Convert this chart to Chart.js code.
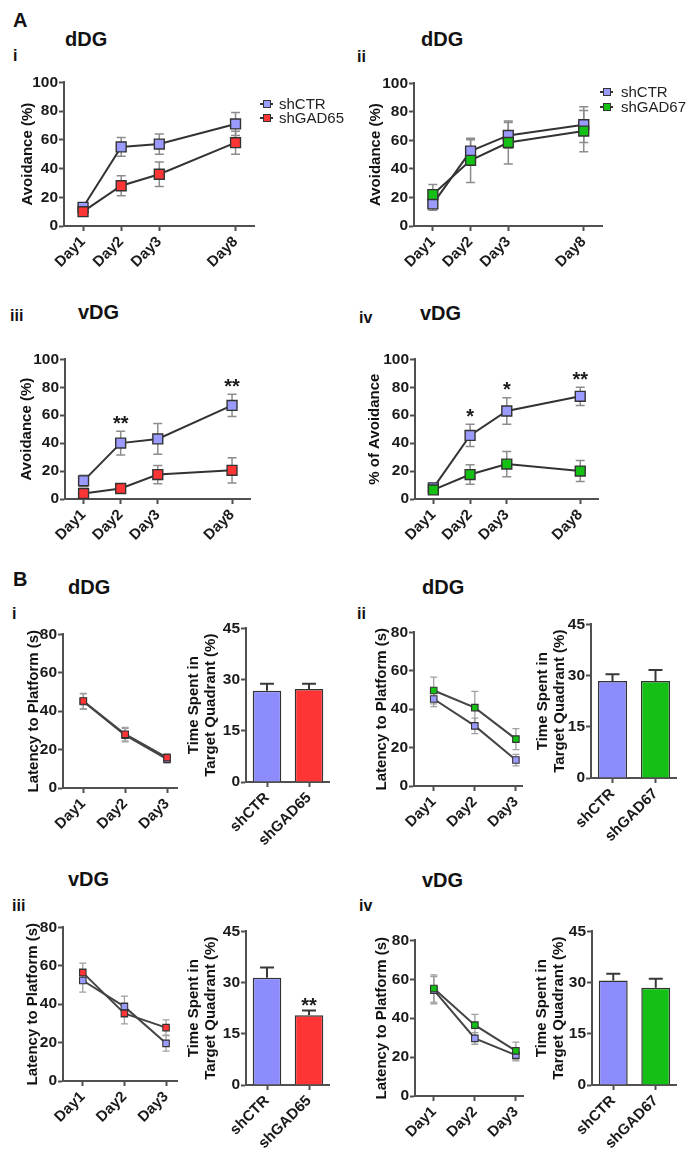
<!DOCTYPE html>
<html><head><meta charset="utf-8">
<script src="https://cdn.jsdelivr.net/npm/chart.js@4.4.1/dist/chart.umd.min.js"></script>
<style>
html,body{margin:0;padding:0;background:#fff;}
body{width:694px;height:1155px;position:relative;overflow:hidden;font-family:"Liberation Sans",Arial,Helvetica,sans-serif;}
canvas{position:absolute;}
.t{position:absolute;font-weight:bold;line-height:1;white-space:nowrap;color:#111;}
.lg{position:absolute;font-size:15px;line-height:1;white-space:nowrap;color:#222;}
.lgl{position:absolute;height:2px;background:#333;}
.lgs{position:absolute;width:6px;height:6px;border:1px solid #333;}
</style></head><body>
<script>
// ---------- data ----------
const daysA = ['Day1','Day2','Day3','Day8'];
const daysB = ['Day1','Day2','Day3'];
const groups65 = ['shCTR','shGAD65'];
const groups67 = ['shCTR','shGAD67'];
const ticksAvoid = [0,20,40,60,80,100];
const ticksLat = [0,20,40,60,80];
const ticksQuad = [0,15,30,45];

// A-i  dDG shGAD65
const aiCTR = [13, 55, 57, 71];
const aiCTRerr = [2, 6.5, 7, 8];
const aiGAD = [10, 28, 36, 58];
const aiGADerr = [2, 7, 8.5, 8];
// A-ii dDG shGAD67
const aiiCTR = [15.5, 52.5, 63.5, 71];
const aiiCTRerr = [4.5, 8, 9, 12.5];
const aiiGAD = [22, 46, 58.5, 66.5];
const aiiGADerr = [7, 15.5, 15, 14.5];
// A-iii vDG shGAD65
const aiiiCTR = [13, 40, 43, 67];
const aiiiCTRerr = [4, 8.5, 11, 8];
const aiiiGAD = [4, 7.5, 17.5, 20.5];
const aiiiGADerr = [1.5, 2, 6.5, 9];
const aiiiStars = ['', '**', '', '**'];
// A-iv vDG shGAD67
const aivCTR = [8, 45.5, 63, 73.5];
const aivCTRerr = [2, 8, 9.5, 6.5];
const aivGAD = [6.5, 17.5, 25, 20];
const aivGADerr = [2, 7, 9, 7.5];
const aivStars = ['', '*', '*', '**'];

// B-i dDG shGAD65
const biLatCTR = [45, 27.5, 15];
const biLatCTRerr = [4, 3.5, 2];
const biLatGAD = [45.3, 28, 15.8];
const biLatGADerr = [4, 3.5, 2];
const biQuad = [26.7, 27.2];
const biQuadErr = [2.1, 1.6];
// B-ii dDG shGAD67
const biiLatCTR = [45.3, 31.3, 13.5];
const biiLatCTRerr = [4, 4, 3];
const biiLatGAD = [49.7, 40.8, 24.4];
const biiLatGADerr = [7, 8.5, 5.5];
const biiQuad = [28.4, 28.4];
const biiQuadErr = [2, 3.2];
// B-iii vDG shGAD65
const biiiLatCTR = [52.3, 38.7, 19.6];
const biiiLatCTRerr = [6, 5.5, 4];
const biiiLatGAD = [56.4, 35.2, 27.8];
const biiiLatGADerr = [5, 5.5, 4];
const biiiQuad = [31.4, 20.4];
const biiiQuadErr = [3, 1.4];
const biiiQuadStars = ['', '**'];
// B-iv vDG shGAD67
const bivLatCTR = [54.4, 29.6, 21];
const bivLatCTRerr = [7, 3, 3];
const bivLatGAD = [55.2, 36.4, 23.2];
const bivLatGADerr = [7, 5.5, 4.5];
const bivQuad = [30.6, 28.5];
const bivQuadErr = [2, 2.6];

// ---------- styles ----------
const FONT = '"Liberation Sans", Arial, Helvetica, sans-serif';
Chart.defaults.font.family = FONT;
Chart.defaults.color = '#1a1a1a';
Chart.defaults.animation = false;
const AX = '#505050', LINE_A = '#333', LINE_B = '#444', ERR_A = '#8c8c8c', ERR_B = '#a0a0a0', EDGE = '#333';
const BLUE = '#9a9aff', BLUE_BAR = '#8c8cff', RED = '#ff3535', GREEN = '#14c014';
const YW = 62;

function withGap(a){ return [a[0], a[1], a[2], null, a[3]]; }
function val(d){ return d == null ? null : (typeof d === 'object' ? d.y : d); }

function drawErr(chart, after){
  const ctx = chart.ctx, ys = chart.scales.y;
  chart.data.datasets.forEach((ds, di) => {
    if (!ds.errors || (!!ds.errAfter) !== after) return;
    const meta = chart.getDatasetMeta(di);
    ctx.save(); ctx.strokeStyle = ds.errColor; ctx.lineWidth = ds.errWidth;
    meta.data.forEach((el, i) => {
      const v = val(ds.data[i]), e = ds.errors[i];
      if (v == null || e == null) return;
      const x = el.x, yt = ys.getPixelForValue(v + e), yb = ys.getPixelForValue(ds.errUp ? v : v - e), c = ds.errCap;
      ctx.beginPath();
      ctx.moveTo(x, yt); ctx.lineTo(x, yb);
      ctx.moveTo(x - c, yt); ctx.lineTo(x + c, yt);
      if (!ds.errUp) { ctx.moveTo(x - c, yb); ctx.lineTo(x + c, yb); }
      ctx.stroke();
    });
    ctx.restore();
  });
}
function drawStars(chart){
  const st = chart.data.stars; if (!st) return;
  const ctx = chart.ctx, ys = chart.scales.y;
  st.forEach((s, i) => {
    if (!s) return;
    let top = Infinity, x = null;
    chart.data.datasets.forEach((ds, di) => {
      const v = val(ds.data[i]); if (v == null) return;
      const e = (ds.errors && ds.errors[i]) || 0;
      top = Math.min(top, ys.getPixelForValue(v + e));
      x = chart.getDatasetMeta(di).data[i].x;
    });
    if (x == null) return;
    ctx.save();
    ctx.font = 'bold 20px ' + FONT; ctx.fillStyle = '#1a1a1a';
    ctx.textAlign = 'center'; ctx.textBaseline = 'alphabetic';
    ctx.fillText(s, x, top - chart.data.starGap + 0.57 * 20);
    ctx.restore();
  });
}
const errPlugin = {
  id: 'errbars',
  beforeDatasetsDraw(chart){ drawErr(chart, false); },
  afterDatasetsDraw(chart){ drawErr(chart, true); drawStars(chart); }
};
Chart.register(errPlugin);

function yLin(ticks, title, titleX, area){
  const fs = 15, lh = fs * 1.15;
  return {
    type: 'linear', min: ticks[0], max: ticks[ticks.length - 1],
    afterBuildTicks: s => { s.ticks = ticks.map(v => ({value: v})); },
    afterFit: s => { s.width = YW; },
    grid: {drawOnChartArea: false, tickLength: 5, tickWidth: 2, tickColor: AX, color: AX},
    border: {color: AX, width: 2},
    ticks: {font: {size: 15.5, weight: 'bold'}, color: '#1a1a1a', padding: 1, autoSkip: false},
    title: {display: true, text: title, color: '#111', font: {size: fs, weight: 'bold', lineHeight: 1.15},
            padding: {top: Math.max(0, titleX - area.l + YW - lh / 2), bottom: 0}}
  };
}
function xTicks(){ return {font: {size: 15, weight: 'bold'}, color: '#1a1a1a', minRotation: 45, maxRotation: 45, padding: 2, autoSkip: false}; }
function baseOpts(){
  return {responsive: false, animation: false, events: [], layout: {padding: 0},
          plugins: {legend: {display: false}, tooltip: {enabled: false}}};
}
function pt(label, data, errs, color, order, big){
  return {label, data, errors: errs, order, spanGaps: true, tension: 0,
    borderColor: big ? LINE_A : LINE_B, borderWidth: 2,
    pointStyle: 'rect', pointRadius: big ? 7 : 4.6, pointBackgroundColor: color,
    pointBorderColor: EDGE, pointBorderWidth: big ? 1.4 : 1.1,
    errColor: big ? ERR_A : ERR_B, errWidth: big ? 1.5 : 1.3, errCap: big ? 4.5 : 3.5};
}

function cfgA(p){
  return () => {
    const o = baseOpts();
    o.scales = {
      x: {type: 'category', offset: true, afterFit: s => { s.height = 48; },
          grid: {drawOnChartArea: false, offset: false, tickLength: 5, tickWidth: 2, color: AX,
                 tickColor: c => (c.tick && c.tick.label === '') ? 'rgba(0,0,0,0)' : AX},
          border: {color: AX, width: 2}, ticks: xTicks()},
      y: yLin(ticksAvoid, p.yTitle, p.titleX, p.area)
    };
    return {type: 'line',
      data: {labels: withGap(daysA).map(d => d == null ? '' : d),
        stars: p.stars ? withGap(p.stars) : null, starGap: 13,
        datasets: [pt('shCTR', withGap(p.ctr), withGap(p.ctrErr), BLUE, 1, true),
                   pt(p.gadName, withGap(p.gad), withGap(p.gadErr), p.gadColor, 0, true)]},
      options: o};
  };
}
function cfgBL(p){
  return () => {
    const o = baseOpts();
    o.scales = {
      x: {type: 'linear', min: p.xMin, max: p.xMax, afterFit: s => { s.height = 52; },
          afterBuildTicks: s => { s.ticks = daysB.map((d, i) => ({value: i})); },
          grid: {drawOnChartArea: false, tickLength: 5, tickWidth: 2, color: AX, tickColor: AX},
          border: {color: AX, width: 2},
          ticks: Object.assign(xTicks(), {callback: v => daysB[v] == null ? '' : daysB[v]})},
      y: yLin(ticksLat, 'Latency to Platform (s)', p.titleX, p.area)
    };
    const xy = a => a.map((v, i) => ({x: i, y: v}));
    return {type: 'line',
      data: {datasets: [pt('shCTR', xy(p.ctr), p.ctrErr, BLUE, 1, false),
                        pt(p.gadName, xy(p.gad), p.gadErr, p.gadColor, 0, false)]},
      options: o};
  };
}
function cfgBB(p){
  return () => {
    const o = baseOpts();
    o.scales = {
      x: {type: 'category', offset: true, afterFit: s => { s.height = 80; },
          grid: {drawOnChartArea: false, offset: false, tickLength: 5, tickWidth: 2, color: AX, tickColor: AX},
          border: {color: AX, width: 2}, ticks: xTicks()},
      y: yLin(ticksQuad, ['Time Spent in', 'Target Quadrant (%)'], p.titleX, p.area)
    };
    return {type: 'bar',
      data: {labels: p.groups, stars: p.stars || null, starGap: 10,
        datasets: [{data: p.vals, errors: p.errs, errUp: true, errAfter: true, errColor: '#383838', errWidth: 2, errCap: 7,
          backgroundColor: [BLUE_BAR, p.color], borderColor: EDGE, borderWidth: 1.5,
          barPercentage: 0.68, categoryPercentage: 1}]},
      options: o};
  };
}

function build(area, makeCfg){
  const cv = document.createElement('canvas');
  document.body.appendChild(cv);
  const make = (W, H) => {
    cv.width = W; cv.height = H; cv.style.width = W + 'px'; cv.style.height = H + 'px';
    return new Chart(cv, makeCfg());
  };
  const W = YW + (area.r - area.l) + 20, H = 20 + (area.b - area.t) + 80;
  let ch = make(W, H); let ca = ch.chartArea;
  const W2 = Math.round(ca.left + (area.r - area.l) + (W - ca.right));
  const H2 = Math.round(ca.top + (area.b - area.t) + (H - ca.bottom));
  ch.destroy();
  ch = make(W2, H2); ca = ch.chartArea;
  cv.style.left = (area.l - ca.left) + 'px';
  cv.style.top = (area.t - ca.top) + 'px';
}

// ---------- panels ----------
const A1 = {l: 64, t: 82, r: 255, b: 226};
build(A1, cfgA({area: A1, titleX: 27.5, yTitle: 'Avoidance (%)', ctr: aiCTR, ctrErr: aiCTRerr, gad: aiGAD, gadErr: aiGADerr, gadName: 'shGAD65', gadColor: RED}));
const A2 = {l: 414, t: 83, r: 603, b: 226};
build(A2, cfgA({area: A2, titleX: 375.5, yTitle: 'Avoidance (%)', ctr: aiiCTR, ctrErr: aiiCTRerr, gad: aiiGAD, gadErr: aiiGADerr, gadName: 'shGAD67', gadColor: GREEN}));
const A3 = {l: 65, t: 359, r: 251, b: 499};
build(A3, cfgA({area: A3, titleX: 26.5, yTitle: 'Avoidance (%)', ctr: aiiiCTR, ctrErr: aiiiCTRerr, gad: aiiiGAD, gadErr: aiiiGADerr, gadName: 'shGAD65', gadColor: RED, stars: aiiiStars}));
const A4 = {l: 415, t: 359, r: 599, b: 499};
build(A4, cfgA({area: A4, titleX: 375.3, yTitle: '% of Avoidance', ctr: aivCTR, ctrErr: aivCTRerr, gad: aivGAD, gadErr: aivGADerr, gadName: 'shGAD67', gadColor: GREEN, stars: aivStars}));

const B1L = {l: 63, t: 634, r: 177, b: 788};
build(B1L, cfgBL({area: B1L, titleX: 33.5, xMin: -0.485, xMax: 2.246, ctr: biLatCTR, ctrErr: biLatCTRerr, gad: biLatGAD, gadErr: biLatGADerr, gadName: 'shGAD65', gadColor: RED}));
const B1B = {l: 246, t: 628, r: 330, b: 782};
build(B1B, cfgBB({area: B1B, titleX: 194, groups: groups65, vals: biQuad, errs: biQuadErr, color: RED}));
const B2L = {l: 414, t: 632, r: 524, b: 786};
build(B2L, cfgBL({area: B2L, titleX: 382, xMin: -0.48, xMax: 2.17, ctr: biiLatCTR, ctrErr: biiLatCTRerr, gad: biiLatGAD, gadErr: biiLatGADerr, gadName: 'shGAD67', gadColor: GREEN}));
const B2B = {l: 591, t: 624, r: 677, b: 778};
build(B2B, cfgBB({area: B2B, titleX: 543, groups: groups67, vals: biiQuad, errs: biiQuadErr, color: GREEN}));
const B3L = {l: 63, t: 927, r: 177, b: 1081};
build(B3L, cfgBL({area: B3L, titleX: 33.3, xMin: -0.475, xMax: 2.27, ctr: biiiLatCTR, ctrErr: biiiLatCTRerr, gad: biiiLatGAD, gadErr: biiiLatGADerr, gadName: 'shGAD65', gadColor: RED}));
const B3B = {l: 246, t: 931, r: 330, b: 1085};
build(B3B, cfgBB({area: B3B, titleX: 194, groups: groups65, vals: biiiQuad, errs: biiiQuadErr, color: RED, stars: biiiQuadStars}));
const B4L = {l: 415, t: 940, r: 525, b: 1096};
build(B4L, cfgBL({area: B4L, titleX: 382, xMin: -0.46, xMax: 2.19, ctr: bivLatCTR, ctrErr: bivLatCTRerr, gad: bivLatGAD, gadErr: bivLatGADerr, gadName: 'shGAD67', gadColor: GREEN}));
const B4B = {l: 592, t: 931, r: 677, b: 1085};
build(B4B, cfgBB({area: B4B, titleX: 542, groups: groups67, vals: bivQuad, errs: bivQuadErr, color: GREEN}));

// ---------- text ----------
function txt(s, x, capTop, fs){
  const d = document.createElement('div'); d.className = 't'; d.textContent = s;
  d.style.fontSize = fs + 'px'; d.style.left = x + 'px'; d.style.top = (capTop - 0.1305 * fs) + 'px';
  document.body.appendChild(d);
}
[['A', 13, 13, 20], ['dDG', 65, 32, 20], ['i', 13, 50, 16],
 ['dDG', 421, 32, 20], ['ii', 357, 51, 16],
 ['iii', 10, 310, 16], ['vDG', 78, 305, 20],
 ['iv', 359, 312, 16], ['vDG', 420, 306, 20],
 ['B', 13, 572, 20], ['dDG', 68, 580, 20], ['i', 12, 608, 16],
 ['dDG', 422, 580, 20], ['ii', 357, 608, 16],
 ['vDG', 68, 872, 20], ['iii', 12, 900, 16],
 ['vDG', 422, 873, 20], ['iv', 359, 900, 16]].forEach(a => txt(a[0], a[1], a[2], a[3]));

function legend(cx, textX, rows){
  rows.forEach(r => {
    const l = document.createElement('div'); l.className = 'lgl';
    l.style.left = (cx - 6.5) + 'px'; l.style.width = '13px'; l.style.top = (r.y - 1) + 'px';
    document.body.appendChild(l);
    const s = document.createElement('div'); s.className = 'lgs';
    s.style.left = (cx - 4) + 'px'; s.style.top = (r.y - 4) + 'px'; s.style.background = r.color;
    document.body.appendChild(s);
    const t = document.createElement('div'); t.className = 'lg'; t.textContent = r.label;
    t.style.left = textX + 'px'; t.style.top = (r.y - 0.4885 * 15) + 'px';
    document.body.appendChild(t);
  });
}
legend(266.5, 279, [{label: groups65[0], color: BLUE, y: 103.5}, {label: groups65[1], color: RED, y: 117.5}]);
legend(606.5, 621, [{label: groups67[0], color: BLUE, y: 91.5}, {label: groups67[1], color: GREEN, y: 106.5}]);
</script>
</body></html>
